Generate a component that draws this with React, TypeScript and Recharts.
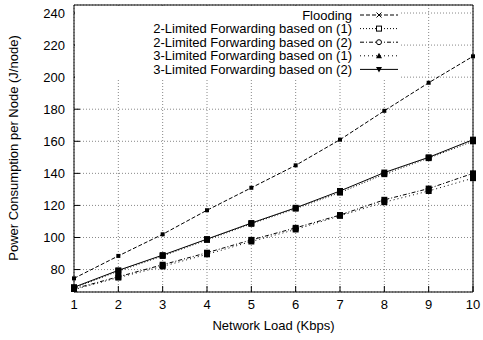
import { LineChart, Line, XAxis, YAxis, CartesianGrid, ReferenceLine } from "recharts";

const loads = [1, 2, 3, 4, 5, 6, 7, 8, 9, 10];
const flooding = [74.5, 88.5, 102, 117, 131, 145, 161, 179, 196.5, 213];
const lim2Based1 = [68.5, 79, 88.5, 98.5, 108.5, 118, 128, 139.5, 149.5, 160];
const lim2Based2 = [68, 75.5, 83, 90.5, 98.5, 106, 114, 123.5, 130.5, 140];
const lim3Based1 = [67.5, 75, 82, 89.5, 97.5, 105, 113.5, 122, 129, 137];
const lim3Based2 = [69, 79.5, 89, 99, 109, 118.5, 129, 140.5, 150, 161];
const yTicks = [80, 100, 120, 140, 160, 180, 200, 220, 240];

const data = loads.map((x, i) => ({
  x,
  flooding: flooding[i],
  l2b1: lim2Based1[i],
  l2b2: lim2Based2[i],
  l3b1: lim3Based1[i],
  l3b2: lim3Based2[i],
}));

const FONT = '"Liberation Sans", Arial, sans-serif';

type Marker = "cross" | "square" | "circle" | "tri" | "itri";

const series: { key: string; name: string; dash: string; marker: Marker; size: number }[] = [
  { key: "flooding", name: "Flooding", dash: "4 2", marker: "cross", size: 4 },
  { key: "l2b1", name: "2-Limited Forwarding based on (1)", dash: "1 2", marker: "square", size: 6 },
  { key: "l2b2", name: "2-Limited Forwarding based on (2)", dash: "4 2 1 2", marker: "circle", size: 6 },
  { key: "l3b1", name: "3-Limited Forwarding based on (1)", dash: "1 3", marker: "tri", size: 6 },
  { key: "l3b2", name: "3-Limited Forwarding based on (2)", dash: "", marker: "itri", size: 6 },
];

// data points look like filled blobs in the original render
const blob = (size: number) => (props: any) => {
  const { cx, cy, index } = props;
  if (cx == null || cy == null) return <g key={index} />;
  return <rect key={index} x={cx - size / 2} y={cy - size / 2} width={size} height={size} fill="#000" />;
};

function LegendMarker({ m, x, y }: { m: Marker; x: number; y: number }) {
  if (m === "cross")
    return (
      <g stroke="#000" strokeWidth={1}>
        <line x1={x - 2.5} y1={y - 2.5} x2={x + 2.5} y2={y + 2.5} />
        <line x1={x - 2.5} y1={y + 2.5} x2={x + 2.5} y2={y - 2.5} />
      </g>
    );
  if (m === "square") return <rect x={x - 2.5} y={y - 2.5} width={5} height={5} fill="#fff" stroke="#000" />;
  if (m === "circle") return <circle cx={x} cy={y} r={2.5} fill="#fff" stroke="#000" />;
  if (m === "tri") return <path d={`M${x - 3},${y + 2.5}L${x + 3},${y + 2.5}L${x},${y - 3}Z`} fill="#000" />;
  return <path d={`M${x - 3},${y - 2.5}L${x + 3},${y - 2.5}L${x},${y + 3}Z`} fill="#000" />;
}

function KeyBox() {
  return (
    <svg
      width={325}
      height={74}
      style={{ position: "absolute", left: 75, top: 6, background: "#fff" }}
    >
      {series.map((s, i) => {
        const y = 9 + i * 13.6;
        return (
          <g key={s.key}>
            <text x={277} y={y + 4.5} textAnchor="end" fontSize={13} fontFamily={FONT} fill="#000">
              {s.name}
            </text>
            <line x1={285} x2={323} y1={y} y2={y} stroke="#000" strokeWidth={1} strokeDasharray={s.dash || undefined} />
            <LegendMarker m={s.marker} x={304} y={y} />
          </g>
        );
      })}
    </svg>
  );
}

const emptyTick = () => <g />;

export default function App() {
  return (
    <div style={{ position: "absolute", left: 0, top: 0, width: 483, height: 340, background: "#fff", fontFamily: FONT }}>
      <LineChart width={483} height={340} data={data} margin={{ top: 5, right: 10, left: 0, bottom: 0 }}>
        <CartesianGrid stroke="#888" strokeDasharray="1 2" />
        <XAxis
          dataKey="x"
          type="number"
          domain={[1, 10]}
          ticks={loads}
          height={48}
          stroke="#000"
          tickSize={-6}
          tickMargin={14}
          tick={{ fill: "#000", fontSize: 13, fontFamily: FONT }}
        />
        <XAxis xAxisId="top" dataKey="x" type="number" domain={[1, 10]} ticks={loads} orientation="top" height={0} stroke="#000" tickSize={-6} tick={emptyTick} />
        <YAxis
          type="number"
          domain={[66, 245]}
          ticks={yTicks}
          allowDataOverflow
          width={74}
          stroke="#000"
          tickSize={-6}
          tickMargin={15}
          tick={{ fill: "#000", fontSize: 13, fontFamily: FONT }}
        />
        <YAxis yAxisId="right" type="number" domain={[66, 245]} ticks={yTicks} orientation="right" width={0} stroke="#000" tickSize={-6} tick={emptyTick} />
        <ReferenceLine y={245} stroke="#000" />
        <ReferenceLine x={10} stroke="#000" />
        {series.map((s) => (
          <Line
            key={s.key}
            dataKey={s.key}
            name={s.name}
            stroke="#000"
            strokeWidth={1}
            strokeDasharray={s.dash || undefined}
            dot={blob(s.size)}
            activeDot={false}
            isAnimationActive={false}
          />
        ))}
      </LineChart>
      <KeyBox />
      <div style={{ position: "absolute", left: 74, width: 399, top: 318, textAlign: "center", fontSize: 13 }}>
        Network Load (Kbps)
      </div>
      <div
        style={{
          position: "absolute",
          left: 13,
          top: 148,
          width: 300,
          textAlign: "center",
          fontSize: 13,
          transform: "translate(-50%, -50%) rotate(-90deg)",
          lineHeight: "15px",
        }}
      >
        Power Consumption per Node (J/node)
      </div>
    </div>
  );
}
